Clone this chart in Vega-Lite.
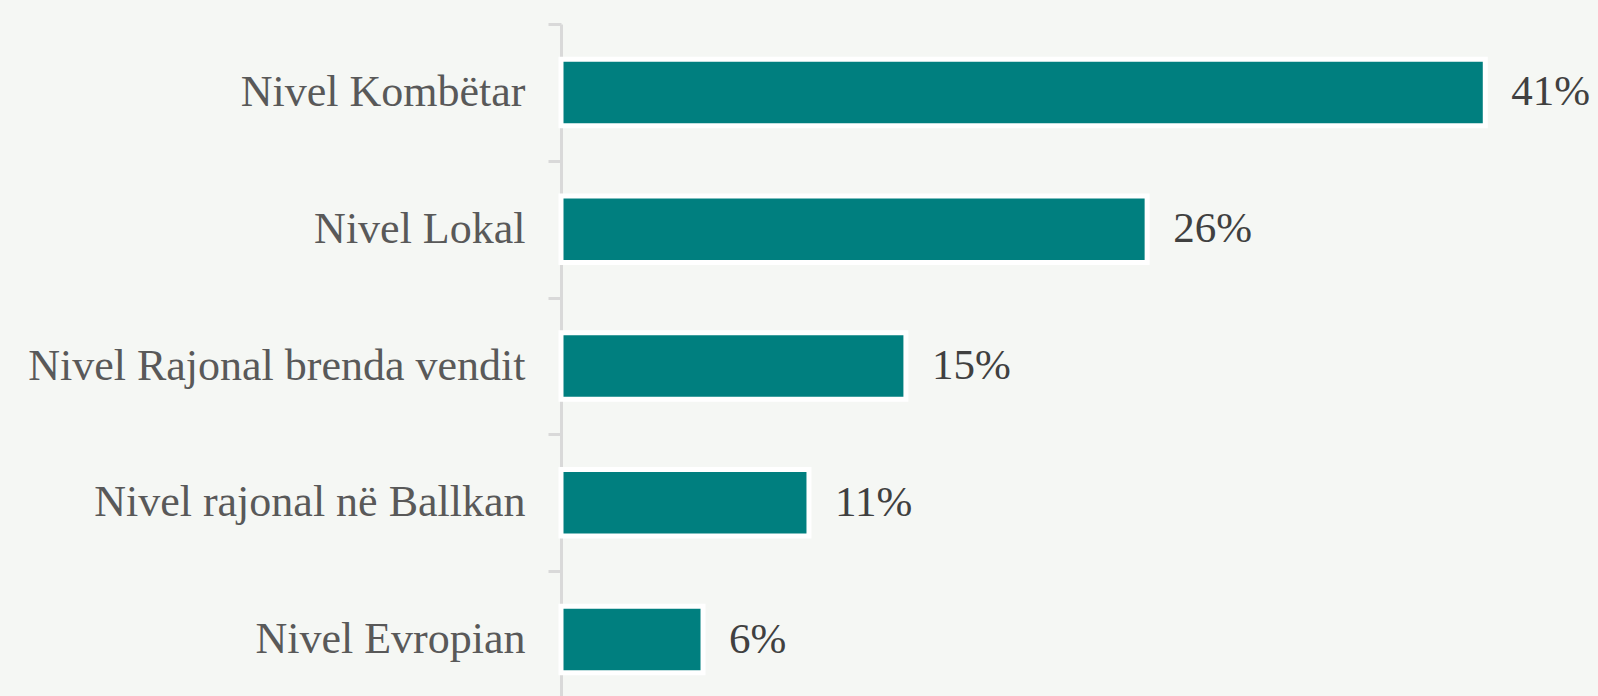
{
  "$schema": "https://vega.github.io/schema/vega-lite/v6.json",
  "width": 1037,
  "height": 684,
  "autosize": {"type": "none"},
  "padding": {"left": 561, "top": 24, "right": 0, "bottom": 0},
  "background": "#f5f7f4",
  "config": {"view": {"stroke": null}, "font": "Liberation Serif"},
  "data": {
    "values": [
      {"level": "Nivel Kombëtar", "share": 0.41},
      {"level": "Nivel Lokal", "share": 0.26},
      {"level": "Nivel Rajonal brenda vendit", "share": 0.153},
      {"level": "Nivel rajonal në Ballkan", "share": 0.11},
      {"level": "Nivel Evropian", "share": 0.063}
    ]
  },
  "encoding": {
    "y": {
      "field": "level",
      "type": "nominal",
      "sort": null,
      "scale": {"paddingInner": 0.514, "paddingOuter": 0.257},
      "axis": {
        "title": null,
        "tickOffset": -68.4,
        "labelOffset": 68.4,
        "domainColor": "#d9d9d9",
        "domainWidth": 3,
        "tickColor": "#d9d9d9",
        "tickWidth": 3,
        "tickSize": 13,
        "labelPadding": 23,
        "labelFont": "Liberation Serif",
        "labelFontSize": 44,
        "labelColor": "#595959",
        "labelLimit": 0
      }
    },
    "x": {
      "field": "share",
      "type": "quantitative",
      "scale": {"domain": [0, 0.46], "nice": false},
      "axis": null
    }
  },
  "layer": [
    {"mark": {"type": "bar", "color": "#007f7f", "stroke": "white", "strokeWidth": 5}},
    {
      "mark": {"type": "text", "align": "left", "baseline": "middle", "dx": 26, "font": "Liberation Serif", "fontSize": 43, "color": "#404040"},
      "encoding": {"text": {"field": "share", "type": "quantitative", "format": ".0%"}}
    }
  ]
}
